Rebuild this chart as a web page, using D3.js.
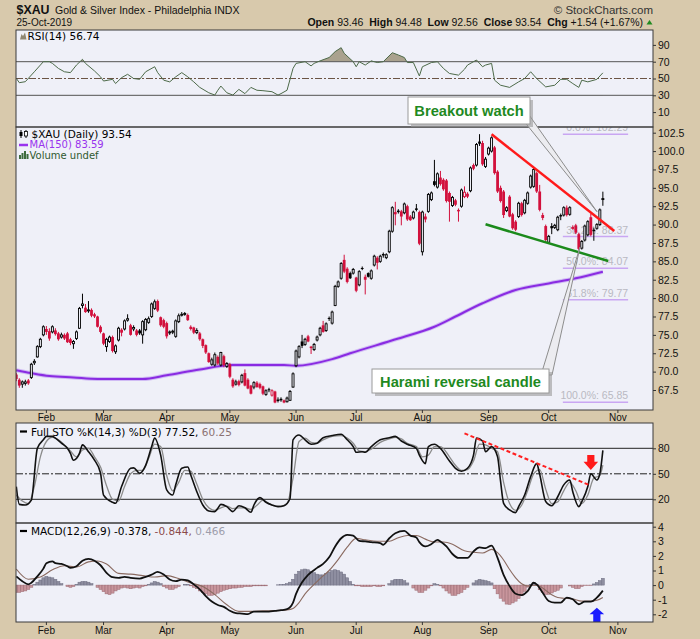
<!DOCTYPE html>
<html>
<head>
<meta charset="utf-8">
<script src="https://cdn.jsdelivr.net/npm/d3@7"></script>
<style>
  body { margin: 0; background: #d8c9ac; }
  svg { display: block; }
</style>
</head>
<body>
<div id="wrapper"></div>
<script>
// ---------- data ----------
const months = ['Feb', 'Mar', 'Apr', 'May', 'Jun', 'Jul', 'Aug', 'Sep', 'Oct', 'Nov'];
const monthIdx = [10, 29, 50, 71, 93, 113, 135, 157, 177, 200];

const opens = [
  69.6, 68.9, 68.3, 68.4, 68.8, 69.2, 71.2, 72.0, 73.4, 75.0,
  75.8, 75.5, 75.4, 75.6, 75.2, 74.7, 75.0, 75.2, 74.4, 73.8,
  74.5, 75.9, 79.0, 78.7, 78.3, 78.4, 77.8, 77.5, 76.1, 75.2,
  73.4, 74.1, 74.7, 72.7, 74.3, 75.7, 75.8, 77.0, 76.3, 75.8,
  75.6, 75.6, 75.0, 75.7, 76.7, 77.5, 78.6, 79.6, 77.4, 77.0,
  76.6, 75.3, 75.4, 74.8, 76.8, 77.7, 77.8, 77.7, 76.1, 76.0,
  75.3, 75.2, 74.4, 73.6, 72.5, 71.0, 70.9, 72.0, 70.9, 72.1,
  70.7, 71.0, 68.9, 68.3, 68.7, 68.6, 69.8, 68.9, 68.1, 67.9,
  68.5, 68.3, 68.0, 66.9, 67.6, 66.8, 67.3, 66.2, 66.3, 66.1,
  65.9, 66.1, 67.9, 70.8, 72.0, 74.1, 73.7, 74.8, 73.4, 73.0,
  74.3, 75.0, 76.3, 75.6, 77.3, 76.6, 79.0, 81.6, 82.7, 85.2,
  84.0, 83.4, 83.4, 82.8, 81.8, 84.1, 82.9, 83.4, 82.7, 84.5,
  85.5, 85.0, 86.0, 85.5, 86.3, 89.1, 91.7, 91.9, 91.8, 91.6,
  92.5, 91.1, 90.9, 92.2, 91.7, 86.3, 91.1, 91.8, 93.4, 95.9,
  95.1, 96.4, 96.1, 96.0, 94.3, 92.6, 93.3, 92.0, 92.5, 93.8,
  94.2, 94.6, 98.1, 98.1, 101.3, 101.1, 97.9, 99.6, 100.0, 100.5,
  97.2, 95.0, 94.5, 91.9, 93.8, 91.4, 90.4, 91.1, 92.9, 91.6,
  92.9, 95.1, 95.2, 97.0, 94.5, 91.3, 89.8, 87.6, 89.8, 89.6,
  89.3, 91.3, 91.3, 92.3, 91.4, 89.5, 89.9, 88.7, 86.8, 87.9,
  88.6, 91.0, 89.3, 89.5, 90.0, 93.46
];
const highs = [
  69.8, 69.1, 68.8, 68.9, 69.0, 71.2, 71.7, 73.6, 74.6, 76.3,
  76.2, 75.9, 76.3, 75.9, 75.4, 75.3, 75.2, 75.4, 74.6, 74.3,
  75.6, 78.8, 80.6, 79.2, 79.6, 78.6, 78.0, 77.6, 76.3, 75.3,
  74.6, 74.9, 74.9, 73.7, 76.1, 75.9, 77.1, 77.8, 76.5, 76.3,
  75.8, 75.8, 77.0, 77.3, 77.5, 79.4, 79.8, 79.8, 77.5, 77.2,
  76.8, 75.6, 75.7, 77.1, 77.9, 78.1, 78.1, 77.9, 76.3, 76.1,
  75.9, 75.4, 74.5, 73.7, 72.6, 71.9, 72.6, 72.2, 72.7, 72.3,
  71.3, 71.2, 69.1, 68.9, 68.9, 69.7, 70.3, 69.1, 68.2, 68.7,
  68.7, 68.5, 68.1, 67.6, 67.8, 67.6, 67.4, 66.5, 66.5, 66.2,
  66.6, 67.5, 69.9, 73.0, 73.6, 75.0, 74.6, 75.0, 73.5, 73.9,
  74.9, 76.1, 76.9, 76.7, 77.5, 78.3, 81.8, 82.4, 84.9, 85.9,
  84.2, 83.6, 84.1, 82.9, 83.8, 84.3, 83.2, 83.5, 83.9, 85.9,
  85.7, 85.9, 86.2, 86.1, 89.3, 92.5, 93.1, 92.1, 92.0, 93.0,
  92.7, 91.3, 91.9, 92.8, 91.9, 91.9, 91.5, 94.3, 94.5, 98.8,
  97.1, 97.3, 96.3, 96.2, 94.5, 93.9, 93.5, 92.2, 94.9, 95.2,
  94.4, 97.9, 98.3, 101.1, 102.3, 101.4, 99.2, 100.6, 102.0, 100.7,
  97.4, 95.3, 94.7, 92.5, 94.0, 91.6, 90.6, 93.1, 93.1, 93.5,
  94.5, 96.8, 97.7, 97.2, 95.4, 91.6, 90.0, 88.6, 90.2, 90.1,
  91.2, 91.5, 92.5, 92.6, 92.5, 89.9, 90.1, 88.9, 87.9, 90.0,
  90.6, 91.5, 89.6, 90.2, 92.2, 94.48
];
const lows = [
  68.7, 67.8, 67.8, 68.1, 68.2, 69.0, 70.9, 71.9, 73.2, 74.8,
  75.0, 74.2, 75.2, 74.9, 74.2, 74.5, 74.3, 73.9, 73.6, 73.1,
  74.3, 75.8, 78.6, 78.0, 78.0, 77.4, 77.3, 76.0, 75.2, 73.6,
  72.7, 73.9, 72.6, 72.4, 74.1, 74.8, 75.6, 76.8, 74.9, 75.5,
  74.8, 75.0, 73.8, 75.5, 76.5, 77.3, 78.4, 78.1, 76.1, 75.9,
  74.5, 75.0, 75.1, 74.6, 76.6, 77.5, 77.6, 76.9, 75.6, 75.1,
  75.1, 74.2, 73.2, 72.4, 71.2, 70.8, 70.7, 70.9, 70.7, 70.6,
  70.5, 69.1, 67.8, 68.1, 68.0, 68.4, 68.0, 67.6, 66.9, 67.6,
  67.8, 67.6, 66.8, 66.7, 67.2, 66.6, 65.7, 65.8, 65.9, 65.7,
  65.8, 66.0, 67.8, 70.6, 71.8, 73.2, 73.5, 74.0, 72.4, 72.8,
  74.1, 74.8, 75.3, 75.4, 76.9, 76.4, 78.9, 81.4, 82.5, 83.4,
  82.0, 82.6, 83.2, 80.8, 81.6, 83.8, 80.5, 82.8, 82.5, 84.3,
  83.9, 84.8, 85.5, 85.3, 86.1, 88.9, 89.9, 91.5, 89.9, 91.4,
  90.5, 90.5, 90.7, 91.8, 87.2, 85.8, 90.3, 91.6, 93.2, 95.2,
  94.9, 95.3, 94.6, 93.0, 90.4, 92.4, 92.5, 90.4, 92.3, 93.6,
  93.6, 94.4, 97.4, 97.9, 100.7, 98.0, 97.7, 99.4, 99.8, 96.8,
  94.3, 93.0, 90.9, 91.7, 91.0, 89.3, 89.1, 90.9, 91.1, 91.4,
  92.7, 94.9, 95.0, 94.3, 91.8, 90.6, 87.7, 87.4, 88.7, 89.4,
  89.1, 90.6, 91.1, 91.1, 91.2, 89.3, 88.7, 86.5, 86.6, 87.7,
  88.4, 88.4, 87.8, 89.3, 89.8, 92.56
];
const closes = [
  69.0, 68.1, 68.6, 68.6, 68.4, 71.0, 71.4, 73.4, 74.4, 76.1,
  75.4, 74.5, 76.1, 75.1, 74.4, 75.0, 74.5, 74.0, 73.9, 74.1,
  75.4, 78.6, 79.2, 78.1, 78.4, 77.6, 77.5, 76.1, 75.4, 73.8,
  74.4, 74.7, 72.8, 73.5, 75.9, 75.3, 76.9, 77.2, 75.0, 76.0,
  75.0, 75.2, 76.8, 77.1, 77.2, 79.2, 79.5, 78.3, 76.3, 76.1,
  74.8, 75.4, 75.5, 76.9, 77.6, 77.8, 77.9, 77.0, 75.8, 75.3,
  75.6, 74.4, 73.5, 72.6, 71.3, 71.6, 72.3, 71.1, 72.6, 70.9,
  71.1, 69.3, 68.0, 68.6, 68.2, 69.5, 68.1, 67.7, 67.0, 68.5,
  67.9, 67.8, 67.0, 67.4, 67.5, 67.4, 65.8, 66.0, 66.1, 65.8,
  66.4, 67.3, 69.7, 72.8, 73.4, 73.5, 74.4, 74.1, 73.2, 73.7,
  74.7, 75.9, 75.4, 76.5, 77.2, 78.1, 81.6, 82.2, 84.7, 83.6,
  82.2, 82.7, 83.9, 81.0, 83.6, 84.0, 82.5, 82.9, 83.7, 85.7,
  84.8, 85.7, 85.8, 85.9, 89.1, 92.3, 91.4, 91.7, 91.1, 92.8,
  90.7, 90.6, 91.7, 92.0, 87.4, 91.7, 90.7, 94.1, 94.3, 95.4,
  96.9, 95.5, 94.8, 93.2, 93.1, 93.7, 92.7, 91.8, 94.7, 94.4,
  93.8, 97.7, 97.6, 100.9, 101.0, 98.2, 98.9, 100.4, 101.8, 97.0,
  94.5, 93.2, 91.3, 92.3, 91.1, 89.5, 89.3, 92.9, 91.3, 93.3,
  94.3, 96.6, 97.5, 94.5, 92.0, 90.9, 87.9, 88.4, 89.5, 89.9,
  91.0, 91.1, 92.3, 91.3, 92.3, 89.6, 88.9, 86.7, 87.7, 89.8,
  90.4, 88.6, 89.1, 90.0, 92.0, 93.54
];

const maIdx = [0, 5, 11, 19, 27, 42, 50, 61, 72, 89, 93, 105, 111, 127, 139, 146, 155, 166, 177, 186, 195];
const maVal = [70.2, 69.8, 69.4, 69.2, 69.0, 69.0, 69.5, 70.3, 70.9, 70.9, 70.8, 71.7, 72.5, 74.5, 76.1, 77.5, 79.3, 81.1, 82.0, 82.7, 83.59];

const rsiIdx = [0, 1, 3, 6, 8, 9, 11, 12, 14, 16, 18, 20, 22, 23, 26, 28, 29, 32, 33, 35,
  37, 39, 41, 43, 46, 47, 49, 51, 53, 55, 57, 59, 61, 64, 66, 67, 68, 70, 72, 74,
  76, 78, 80, 82, 85, 87, 88, 90, 92, 93, 96, 98, 99, 101, 104, 106, 108, 109, 112, 113,
  114, 116, 118, 120, 122, 125, 127, 129, 130, 132, 134, 135, 138, 140, 142, 144, 147, 149, 150, 153,
  155, 156, 158, 159, 161, 164, 167, 169, 171, 173, 176, 179, 181, 183, 185, 187, 188, 190, 193, 195];
const rsiVal = [50.2, 45, 46.2, 58, 66, 70, 70, 68, 62, 58, 57, 66, 72.8, 68, 59, 52, 47, 49, 44, 51,
  55, 50, 49, 58, 64, 57, 48, 46, 52, 57, 52, 46, 39.4, 33, 30.3, 36, 41, 33, 30.3, 37,
  32, 39.4, 36, 35.5, 34.3, 30.3, 32, 36, 62, 68, 70, 65, 68, 71, 75, 82, 86.7, 80, 70, 64,
  70, 66, 71, 69, 70, 80.7, 78, 75, 69, 69, 53, 64, 69, 70, 62, 56, 54, 61, 66, 72,
  64, 66, 68, 48, 42, 39.4, 46, 50, 58, 50, 40, 42, 49, 49, 44, 39.4, 48, 46, 49, 56.74];

const stoKIdx = [0, 1, 3, 5, 7, 9, 10, 12, 13, 15, 17, 18, 19, 21, 22, 24, 26, 28, 29, 32,
  33, 35, 38, 39, 41, 43, 45, 46, 48, 50, 52, 53, 55, 57, 58, 60, 62, 64, 66, 67,
  68, 70, 72, 74, 76, 78, 79, 81, 83, 85, 87, 89, 91, 92, 94, 96, 98, 100, 102, 105,
  108, 110, 112, 113, 115, 116, 118, 121, 124, 126, 128, 130, 133, 134, 136, 137, 139, 141, 144, 146,
  148, 150, 152, 153, 155, 156, 158, 160, 161, 162, 164, 166, 167, 169, 171, 173, 174, 176, 178, 180,
  182, 184, 185, 187, 188, 190, 191, 193, 194, 195];
const stoK = [34.9, 14, 13.3, 19, 80, 90, 94, 94, 92, 86, 80, 74, 66, 74, 84, 76, 66, 51, 25, 16.5,
  15.3, 35, 56.5, 57, 50.6, 60, 82, 92, 72, 31, 25, 37, 56.5, 58, 48.6, 29, 13.3, 6.3, 5.5, 9.4,
  14, 11.4, 5.5, 12.5, 10, 4.7, 13.3, 22, 16.5, 13.3, 11.4, 12.5, 21, 90, 95.7, 90, 84.7, 86, 92.5, 95,
  96.5, 90, 82, 75.3, 76, 75.3, 82, 90, 92.5, 94, 88.6, 84.7, 80, 72, 62, 82, 84.7, 80, 65, 56.5,
  53, 56.5, 72, 92, 88.6, 76, 82, 70, 41, 15.3, 7.5, 4.3, 11.4, 25, 46.7, 62, 49.4, 17.3, 12.5, 23,
  37, 42.7, 29, 11.4, 17.3, 35, 50, 42.7, 50, 77.52];

const stoDIdx = [0, 2, 4, 6, 8, 10, 12, 14, 16, 18, 20, 22, 24, 26, 28, 30, 32, 34, 36, 38,
  40, 42, 44, 46, 48, 50, 52, 54, 56, 58, 60, 62, 64, 66, 68, 70, 72, 74, 76, 78,
  80, 82, 84, 86, 88, 90, 92, 94, 96, 98, 100, 102, 105, 108, 110, 112, 114, 116, 118, 121,
  124, 126, 128, 130, 133, 135, 137, 139, 141, 144, 146, 148, 150, 152, 154, 156, 158, 160, 162, 164,
  166, 168, 170, 172, 174, 176, 178, 180, 182, 184, 186, 188, 190, 192, 194, 195];
const stoD = [25, 18, 15, 35, 70, 88, 93, 90, 84, 77, 70, 78, 80, 70, 58, 36, 20, 18, 35, 50,
  54, 54, 68, 85, 82, 48, 30, 40, 54, 53, 38, 20, 10, 7, 10, 12, 9, 10, 10, 8,
  13, 19, 15, 12, 12, 15, 45, 88, 92, 87, 86, 90, 94, 95, 92, 86, 77, 76, 79, 87,
  91, 93, 91, 86, 82, 70, 72, 82, 82, 70, 60, 54, 55, 65, 85, 84, 80, 76, 40, 15,
  7, 13, 30, 50, 55, 32, 15, 17, 30, 40, 30, 15, 25, 45, 48, 60.25];

const macdIdx = [0, 2, 4, 5, 7, 9, 10, 12, 13, 15, 17, 18, 20, 22, 24, 26, 28, 30, 32, 34,
  36, 38, 41, 43, 45, 47, 49, 51, 53, 55, 57, 59, 61, 63, 65, 67, 69, 71, 73, 75,
  77, 79, 81, 84, 86, 88, 90, 92, 93, 95, 97, 100, 102, 104, 106, 108, 110, 112, 114, 116,
  118, 121, 122, 124, 126, 129, 131, 133, 134, 136, 138, 140, 141, 143, 145, 147, 150, 152, 154, 156,
  158, 160, 162, 164, 166, 168, 170, 172, 173, 175, 177, 179, 181, 183, 185, 187, 189, 191, 193, 195];
const macdVal = [0.6, 0.27, 0.05, 0.16, 0.6, 1.13, 1.5, 1.63, 1.5, 1.45, 1.29, 1.18, 1.29, 1.67, 1.79, 1.67, 1.36, 0.84, 0.54, 0.5,
  0.57, 0.5, 0.45, 0.57, 0.72, 0.9, 0.72, 0.38, 0.27, 0.38, 0.32, 0.05, -0.29, -0.75, -1.13, -1.36, -1.49, -1.76, -1.92, -1.95,
  -1.99, -1.81, -1.81, -1.81, -1.76, -1.72, -1.65, -1.2, -0.6, 0.2, 0.7, 1.18, 1.45, 1.9, 2.65, 3.21, 3.44, 3.39, 3.03, 2.99,
  2.94, 2.87, 2.76, 3.21, 3.55, 3.71, 3.39, 3.26, 2.94, 2.65, 2.81, 3.1, 2.99, 2.65, 2.13, 1.86, 1.86, 2.31, 2.58, 2.53,
  2.71, 1.86, 0.7, -0.07, -0.59, -0.68, -0.41, 0.16, 0.05, -0.52, -1.09, -1.2, -1.2, -0.86, -0.97, -1.31, -1.13, -1.13, -0.86, -0.378];

const sigIdx = [0, 4, 8, 12, 16, 20, 24, 27, 30, 34, 38, 42, 46, 50, 54, 58, 62, 66, 70, 74,
  78, 82, 86, 90, 92, 94, 96, 98, 101, 104, 107, 110, 113, 116, 120, 124, 127, 130, 133, 136,
  139, 142, 145, 149, 152, 155, 158, 160, 162, 164, 166, 168, 170, 172, 174, 176, 178, 180, 182, 185,
  188, 191, 193, 195];
const sigVal = [1.1, 0.4, 0.55, 1.05, 1.33, 1.24, 1.59, 1.65, 1.44, 0.8, 0.75, 0.65, 0.55, 0.65, 0.45, 0.15, -0.1, -0.65, -1.35, -1.8,
  -1.8, -1.76, -1.75, -1.7, -1.6, -1.2, -0.6, -0.15, 0.45, 1.0, 1.75, 2.6, 3.2, 3.1, 3.0, 3.0, 3.25, 3.4, 3.4, 3.15,
  2.95, 2.95, 2.8, 2.35, 2.25, 2.2, 2.45, 2.22, 1.72, 1.07, 0.5, 0.09, -0.06, -0.01, -0.08, -0.36, -0.66, -0.85, -0.9, -0.95,
  -1.1, -1.1, -1.04, -0.844];

const macdHist = [
  -0.5, -0.5, -0.45, -0.4, -0.3, -0.15, 0.05, 0.2, 0.35, 0.5,
  0.6, 0.55, 0.5, 0.4, 0.25, 0.1, 0.0, -0.1, -0.15, -0.1,
  0.05, 0.2, 0.25, 0.25, 0.2, 0.1, 0.0, -0.15, -0.3, -0.45,
  -0.6, -0.65, -0.55, -0.4, -0.3, -0.2, -0.15, -0.2, -0.25, -0.2,
  -0.15, -0.2, -0.1, -0.05, 0.05, 0.15, 0.25, 0.2, 0.1, -0.1,
  -0.2, -0.3, -0.3, -0.2, -0.1, 0.0, 0.05, 0.05, -0.05, -0.15,
  -0.25, -0.4, -0.5, -0.6, -0.7, -0.7, -0.65, -0.55, -0.45, -0.35,
  -0.3, -0.25, -0.2, -0.2, -0.15, -0.15, -0.1, -0.1, -0.1, -0.05,
  -0.05, -0.05, -0.05, -0.05, 0.0, 0.0, 0.0, 0.02, 0.03, 0.05,
  0.1, 0.2, 0.4, 0.75, 0.95, 1.05, 1.1, 1.05, 0.95, 0.85,
  0.75, 0.7, 0.7, 0.8, 0.9, 1.0, 1.05, 1.0, 0.9, 0.75,
  0.5, 0.25, 0.05, -0.05, -0.05, -0.1, -0.1, -0.1, -0.1, -0.05,
  -0.1, -0.1, -0.05, 0.0, 0.1, 0.3, 0.4, 0.4, 0.4, 0.3,
  0.15, 0.0, -0.2, -0.35, -0.5, -0.5, -0.35, -0.2, -0.05, 0.1,
  0.05, -0.05, -0.2, -0.4, -0.55, -0.7, -0.7, -0.6, -0.5, -0.3,
  -0.15, 0.0, 0.15, 0.3, 0.4, 0.35, 0.3, 0.25, 0.15, -0.25,
  -0.6, -0.9, -1.1, -1.3, -1.32, -1.22, -1.1, -0.92, -0.7, -0.43,
  -0.14, 0.05, 0.17, 0.05, -0.32, -0.5, -0.64, -0.63, -0.54, -0.44,
  -0.35, -0.2, 0.0, 0.0, -0.06, -0.15, -0.24, -0.24, -0.1, -0.03,
  -0.03, -0.03, 0.08, 0.18, 0.31, 0.466
];

const priceTicks = [67.5, 70, 72.5, 75, 77.5, 80, 82.5, 85, 87.5, 90, 92.5, 95, 97.5, 100, 102.5];
const rsiTicks = [10, 30, 50, 70, 90];
const stoTicks = [20, 50, 80];
const macdTicks = [-2, -1, 0, 1, 2, 3, 4];

const fibPct = ['0.0%', '38.2%', '50.0%', '61.8%', '100.0%'];
const fibVal = [102.29, 88.37, 84.07, 79.77, 65.85];
const fibSpan = [181.7, 203.4];

// trend lines as [index, value] pairs
const redTrend = [[158, 102.28], [198.8, 89.13]];
const greenTrend = [[156, 90.04], [196.8, 85.04]];
const stoTrend = [[149, 97.6], [190.5, 36.8]];

// ---------- layout ----------
const dimensions = {
  width: 700,
  height: 639,
  left: 16,
  right: 653,
};
const panels = {
  rsi: { top: 30, bottom: 127 },
  main: { top: 127, bottom: 410 },
  sto: { top: 423, bottom: 523 },
  macd: { top: 523, bottom: 622 },
};

const panelFill = '#eff0f8';
const candleRed = '#d2103c';
const axisFont = 'Liberation Sans, Arial, sans-serif';
const legendFont = 'DejaVu Sans, Verdana, sans-serif';

const xScale = d3.scaleLinear().domain([0, 200]).range([16.3, 617.9]);
const yRsi = d3.scaleLinear().domain([30, 70]).range([95.3, 61.7]);
const yPrice = d3.scaleLinear().domain([67.5, 102.5]).range([390, 132.7]);
const ySto = d3.scaleLinear().domain([20, 80]).range([499.3, 448.3]);
const yMacd = d3.scaleLinear().domain([-2, 4]).range([614.3, 526.7]);

const svg = d3.select('#wrapper')
  .append('svg')
  .attr('width', dimensions.width)
  .attr('height', dimensions.height);

svg.append('rect')
  .attr('width', dimensions.width)
  .attr('height', dimensions.height)
  .attr('fill', '#d8c9ac');

const defs = svg.append('defs');

// panel backgrounds + clip paths
Object.entries(panels).forEach(([key, p]) => {
  svg.append('rect')
    .attr('x', dimensions.left)
    .attr('y', p.top)
    .attr('width', dimensions.right - dimensions.left)
    .attr('height', p.bottom - p.top)
    .attr('fill', panelFill);

  defs.append('clipPath').attr('id', 'clip-' + key)
    .append('rect')
    .attr('x', dimensions.left)
    .attr('y', p.top)
    .attr('width', dimensions.right - dimensions.left)
    .attr('height', p.bottom - p.top);
});

const pairs = (idx, vals) => idx.map((d, k) => ({ i: d, v: vals[k] }));

function hLine(g, scale, value, color, dash, width) {
  g.append('line')
    .attr('x1', dimensions.left)
    .attr('x2', dimensions.right)
    .attr('y1', scale(value))
    .attr('y2', scale(value))
    .attr('stroke', color)
    .attr('stroke-width', width || 1)
    .attr('stroke-dasharray', dash || null);
}

function rightAxis(scale, ticks, fmt) {
  const axis = d3.axisRight(scale)
    .tickValues(ticks)
    .tickSize(3)
    .tickPadding(2)
    .tickFormat(fmt);
  const g = svg.append('g')
    .attr('transform', `translate(${dimensions.right},0)`)
    .call(axis);
  g.select('.domain').remove();
  g.selectAll('.tick line').attr('stroke', '#333');
  g.selectAll('.tick text')
    .attr('font-family', axisFont)
    .attr('font-size', '10.5px')
    .attr('fill', '#111');
}

// ---------- RSI panel ----------
const rsiG = svg.append('g').attr('clip-path', 'url(#clip-rsi)');
const rsiData = pairs(rsiIdx, rsiVal);

defs.append('clipPath').attr('id', 'clip-rsi-hi')
  .append('rect')
  .attr('x', dimensions.left).attr('y', panels.rsi.top)
  .attr('width', dimensions.right - dimensions.left)
  .attr('height', yRsi(70) - panels.rsi.top);
defs.append('clipPath').attr('id', 'clip-rsi-lo')
  .append('rect')
  .attr('x', dimensions.left).attr('y', yRsi(30))
  .attr('width', dimensions.right - dimensions.left)
  .attr('height', panels.rsi.bottom - yRsi(30));

rsiG.append('path')
  .attr('clip-path', 'url(#clip-rsi-hi)')
  .attr('d', d3.area().x(d => xScale(d.i)).y0(yRsi(70)).y1(d => yRsi(d.v))(rsiData))
  .attr('fill', '#aaa28e');
rsiG.append('path')
  .attr('clip-path', 'url(#clip-rsi-lo)')
  .attr('d', d3.area().x(d => xScale(d.i)).y0(yRsi(30)).y1(d => yRsi(d.v))(rsiData))
  .attr('fill', '#aaa28e');

hLine(rsiG, yRsi, 70, '#555');
hLine(rsiG, yRsi, 30, '#555');
hLine(rsiG, yRsi, 50, '#6b5444', '7 2 2 2');

rsiG.append('path')
  .attr('d', d3.line().x(d => xScale(d.i)).y(d => yRsi(d.v))(rsiData))
  .attr('fill', 'none')
  .attr('stroke', '#4d6a49')
  .attr('stroke-width', 1);

rightAxis(yRsi, rsiTicks, d3.format('d'));

svg.append('path')
  .attr('d', 'M20,39.5 L21.5,34 L23,36 L25,32.5 L26.5,39.5 Z')
  .attr('fill', '#8f8772');
svg.append('text')
  .attr('x', 27.5).attr('y', 39.5)
  .attr('font-family', legendFont).attr('font-size', '10.5px')
  .text('RSI(14) 56.74');

// ---------- Main price panel ----------
const mainG = svg.append('g').attr('clip-path', 'url(#clip-main)');

// fibonacci levels
fibVal.forEach((v, k) => {
  mainG.append('line')
    .attr('x1', xScale(fibSpan[0])).attr('x2', xScale(fibSpan[1]))
    .attr('y1', yPrice(v)).attr('y2', yPrice(v))
    .attr('stroke', '#c9a6f2').attr('stroke-width', 1.5);
  mainG.append('text')
    .attr('x', xScale(fibSpan[1])).attr('y', yPrice(v) - 3)
    .attr('text-anchor', 'end')
    .attr('font-family', axisFont).attr('font-size', '10.5px')
    .attr('fill', '#b9b9c2')
    .text(`${fibPct[k]}: ${v.toFixed(2)}`);
});

// moving average
const maData = pairs(maIdx, maVal);
const maLine = d3.line().x(d => xScale(d.i)).y(d => yPrice(d.v)).curve(d3.curveMonotoneX);
mainG.append('path')
  .attr('d', maLine(maData))
  .attr('fill', 'none').attr('stroke', '#b690f0').attr('stroke-width', 4).attr('stroke-opacity', 0.55);
mainG.append('path')
  .attr('d', maLine(maData))
  .attr('fill', 'none').attr('stroke', '#8a2be2').attr('stroke-width', 2);

// candles
const candles = closes.map((c, i) => ({
  i, o: opens[i], h: highs[i], l: lows[i], c,
  up: i > 0 && c >= closes[i - 1],
}));

const candleG = mainG.append('g');
candles.forEach(d => {
  const color = d.up ? '#000' : candleRed;
  const cx = xScale(d.i);
  candleG.append('line')
    .attr('x1', cx).attr('x2', cx)
    .attr('y1', yPrice(d.h)).attr('y2', yPrice(d.l))
    .attr('stroke', color).attr('stroke-width', 1);
  const yTop = yPrice(Math.max(d.o, d.c));
  const hgt = Math.max(1, Math.abs(yPrice(d.o) - yPrice(d.c)));
  if (d.c >= d.o) {
    candleG.append('rect')
      .attr('x', cx - 1).attr('y', yTop)
      .attr('width', 2).attr('height', hgt)
      .attr('fill', panelFill).attr('stroke', color).attr('stroke-width', 0.9);
  } else {
    candleG.append('rect')
      .attr('x', cx - 1.4).attr('y', yTop)
      .attr('width', 2.8).attr('height', hgt)
      .attr('fill', color);
  }
});

// trend lines
const trendLine = d3.line().x(d => xScale(d[0]));
mainG.append('path')
  .attr('d', trendLine.y(d => yPrice(d[1]))(redTrend))
  .attr('stroke', '#ff1a1a').attr('stroke-width', 2.5).attr('fill', 'none');
mainG.append('path')
  .attr('d', trendLine.y(d => yPrice(d[1]))(greenTrend))
  .attr('stroke', '#1b8a1b').attr('stroke-width', 2.5).attr('fill', 'none');

rightAxis(yPrice, priceTicks, d3.format('.1f'));

// legend
const legendG = svg.append('g')
  .attr('font-family', legendFont).attr('font-size', '10px');
legendG.append('line').attr('x1', 21).attr('x2', 21).attr('y1', 130).attr('y2', 138).attr('stroke', '#000');
legendG.append('rect').attr('x', 19.5).attr('y', 132).attr('width', 3).attr('height', 4).attr('fill', '#000');
legendG.append('line').attr('x1', 26).attr('x2', 26).attr('y1', 130).attr('y2', 138).attr('stroke', '#000');
legendG.append('rect').attr('x', 24.5).attr('y', 131.5).attr('width', 3).attr('height', 4.5).attr('fill', '#fff').attr('stroke', '#000').attr('stroke-width', 0.8);
legendG.append('text').attr('x', 31.5).attr('y', 137.8).attr('font-size', '10.5px').text('$XAU (Daily) 93.54');
legendG.append('line').attr('x1', 19).attr('x2', 28).attr('y1', 145).attr('y2', 145)
  .attr('stroke', '#9933ee').attr('stroke-width', 2.5);
legendG.append('text').attr('x', 29.5).attr('y', 148.4).attr('fill', '#9933ee').text('MA(150) 83.59');
[[19, 4], [21.5, 6], [24, 8], [26.5, 5]].forEach(b => {
  legendG.append('rect').attr('x', b[0]).attr('y', 159 - b[1]).attr('width', 2).attr('height', b[1])
    .attr('fill', '#3d6b3d');
});
legendG.append('text').attr('x', 29.5).attr('y', 159.2).attr('fill', '#2f5a2f').text('Volume undef');

// ---------- STO panel ----------
const stoG = svg.append('g').attr('clip-path', 'url(#clip-sto)');
hLine(stoG, ySto, 80, '#222');
hLine(stoG, ySto, 20, '#222');
hLine(stoG, ySto, 50, '#222', '7 2 2 2');

const stoLine = d3.line().x(d => xScale(d.i)).y(d => ySto(d.v)).curve(d3.curveMonotoneX);
stoG.append('path')
  .attr('d', stoLine(pairs(stoDIdx, stoD)))
  .attr('fill', 'none').attr('stroke', '#8c8c8c').attr('stroke-width', 1.3);
stoG.append('path')
  .attr('d', stoLine(pairs(stoKIdx, stoK)))
  .attr('fill', 'none').attr('stroke', '#111').attr('stroke-width', 1.6);

stoG.append('path')
  .attr('d', trendLine.y(d => ySto(d[1]))(stoTrend))
  .attr('stroke', '#ff2020').attr('stroke-width', 2).attr('stroke-dasharray', '4 2.5').attr('fill', 'none');

// red down arrow
stoG.append('path')
  .attr('transform', `translate(${xScale(191)},${ySto(54.5)})`)
  .attr('d', 'M0,0 L-7.3,-8.3 L-3.6,-8.3 L-3.6,-15 L3.6,-15 L3.6,-8.3 L7.3,-8.3 Z')
  .attr('fill', '#ff1a1a');

rightAxis(ySto, stoTicks, d3.format('d'));

legendG.append('line').attr('x1', 20).attr('x2', 27).attr('y1', 431.5).attr('y2', 431.5)
  .attr('stroke', '#000').attr('stroke-width', 2.2);
const stoText = legendG.append('text').attr('x', 31).attr('y', 435.5).attr('font-size', '10.5px');
stoText.append('tspan').text('Full STO %K(14,3) %D(3) 77.52, ');
stoText.append('tspan').attr('fill', '#8b7272').text('60.25');

// ---------- MACD panel ----------
const macdG = svg.append('g').attr('clip-path', 'url(#clip-macd)');

macdG.selectAll('rect.hist')
  .data(macdHist)
  .join('rect')
  .attr('class', 'hist')
  .attr('x', (d, i) => xScale(i) - 1.5)
  .attr('width', 3)
  .attr('y', d => Math.min(yMacd(0), yMacd(d)))
  .attr('height', d => Math.abs(yMacd(d) - yMacd(0)))
  .attr('fill', d => d >= 0 ? '#8e8ea0' : '#c8959c')
  .attr('stroke', d => d >= 0 ? '#6f6f82' : '#9a6a72')
  .attr('stroke-width', 0.5);

const macdLine = d3.line().x(d => xScale(d.i)).y(d => yMacd(d.v)).curve(d3.curveMonotoneX);
macdG.append('path')
  .attr('d', macdLine(pairs(sigIdx, sigVal)))
  .attr('fill', 'none').attr('stroke', '#8a6a60').attr('stroke-width', 1.1);
macdG.append('path')
  .attr('d', macdLine(pairs(macdIdx, macdVal)))
  .attr('fill', 'none').attr('stroke', '#111').attr('stroke-width', 1.8);

// blue up arrow
macdG.append('path')
  .attr('transform', `translate(${xScale(193)},${yMacd(-1.55)})`)
  .attr('d', 'M0,0 L7.3,6.6 L3.6,6.6 L3.6,15 L-3.6,15 L-3.6,6.6 L-7.3,6.6 Z')
  .attr('fill', '#1a1aff');

rightAxis(yMacd, macdTicks, d => String(d));

legendG.append('line').attr('x1', 20).attr('x2', 27).attr('y1', 531).attr('y2', 531)
  .attr('stroke', '#000').attr('stroke-width', 2.2);
const macdText = legendG.append('text').attr('x', 31).attr('y', 535).attr('font-size', '10.5px');
macdText.append('tspan').text('MACD(12,26,9) -0.378, ');
macdText.append('tspan').attr('fill', '#8b4a4a').text('-0.844, ');
macdText.append('tspan').attr('fill', '#9d9dab').text('0.466');

// ---------- panel frames ----------
Object.values(panels).forEach(p => {
  svg.append('rect')
    .attr('x', dimensions.left).attr('y', p.top)
    .attr('width', dimensions.right - dimensions.left)
    .attr('height', p.bottom - p.top)
    .attr('fill', 'none').attr('stroke', '#3a3a3a').attr('stroke-width', 1);
});

// month axes below main and MACD panels
[[panels.main.bottom, 420.5], [panels.macd.bottom, 633.5]].forEach(([base, ty]) => {
  months.forEach((m, k) => {
    svg.append('line')
      .attr('x1', xScale(monthIdx[k])).attr('x2', xScale(monthIdx[k]))
      .attr('y1', base).attr('y2', base + 3)
      .attr('stroke', '#333');
    svg.append('text')
      .attr('x', xScale(monthIdx[k])).attr('y', ty)
      .attr('text-anchor', 'middle')
      .attr('font-family', axisFont).attr('font-size', '10px')
      .attr('fill', '#111')
      .text(m);
  });
});

// ---------- callouts ----------
function callout(wedge, box, label, tx, ty) {
  svg.append('polygon')
    .attr('points', wedge.map(p => p.join(',')).join(' '))
    .attr('fill', '#ececf0').attr('stroke', '#8d8d8d').attr('stroke-width', 1);
  svg.append('rect')
    .attr('x', box[0] + 3).attr('y', box[1] + 3).attr('width', box[2]).attr('height', box[3])
    .attr('fill', '#9a9a9a').attr('opacity', 0.6);
  svg.append('rect')
    .attr('x', box[0]).attr('y', box[1]).attr('width', box[2]).attr('height', box[3])
    .attr('fill', '#fff').attr('stroke', '#9a9a9a');
  svg.append('text')
    .attr('x', tx).attr('y', ty)
    .attr('text-anchor', 'middle')
    .attr('font-family', axisFont).attr('font-weight', 'bold').attr('font-size', '14.7px')
    .attr('fill', '#1f8a1f')
    .text(label);
}
callout([[516.6, 112], [527, 112], [xScale(193.05), yPrice(91.75)]],
  [408, 97, 122, 27], 'Breakout watch', 469, 116);
callout([[541, 375], [552, 375], [xScale(187.4), yPrice(86.95)]],
  [372, 369, 177, 24], 'Harami reversal candle', 460.5, 386.5);

// ---------- header ----------
const head = svg.append('g').attr('font-family', axisFont).attr('fill', '#111');
head.append('text').attr('x', 16.5).attr('y', 14)
  .attr('font-size', '13px').attr('font-weight', 'bold')
  .attr('textLength', 33).attr('lengthAdjust', 'spacingAndGlyphs')
  .text('$XAU');
head.append('text').attr('x', 55).attr('y', 14)
  .attr('font-size', '10.5px').text('Gold & Silver Index - Philadelphia  INDX');
head.append('text').attr('x', 653).attr('y', 13.5).attr('text-anchor', 'end')
  .attr('font-size', '11.5px').attr('fill', '#333').text('© StockCharts.com');
head.append('text').attr('x', 16.5).attr('y', 26)
  .attr('font-size', '10px').text('25-Oct-2019');

const quote = head.append('text').attr('x', 643).attr('y', 25.5)
  .attr('text-anchor', 'end').attr('font-size', '10.5px');
[['Open', ' 93.46  '], ['High', ' 94.48  '], ['Low', ' 92.56  '], ['Close', ' 93.54  '], ['Chg', ' +1.54 (+1.67%)']]
  .forEach(([k, v]) => {
    quote.append('tspan').attr('font-weight', 'bold').text(k);
    quote.append('tspan').attr('xml:space', 'preserve').text(v);
  });
quote.attr('style', 'white-space:pre');
head.append('path').attr('d', 'M646.5,24.5 L649.5,20 L652.5,24.5 Z').attr('fill', '#1f8a1f');
</script>
</body>
</html>
